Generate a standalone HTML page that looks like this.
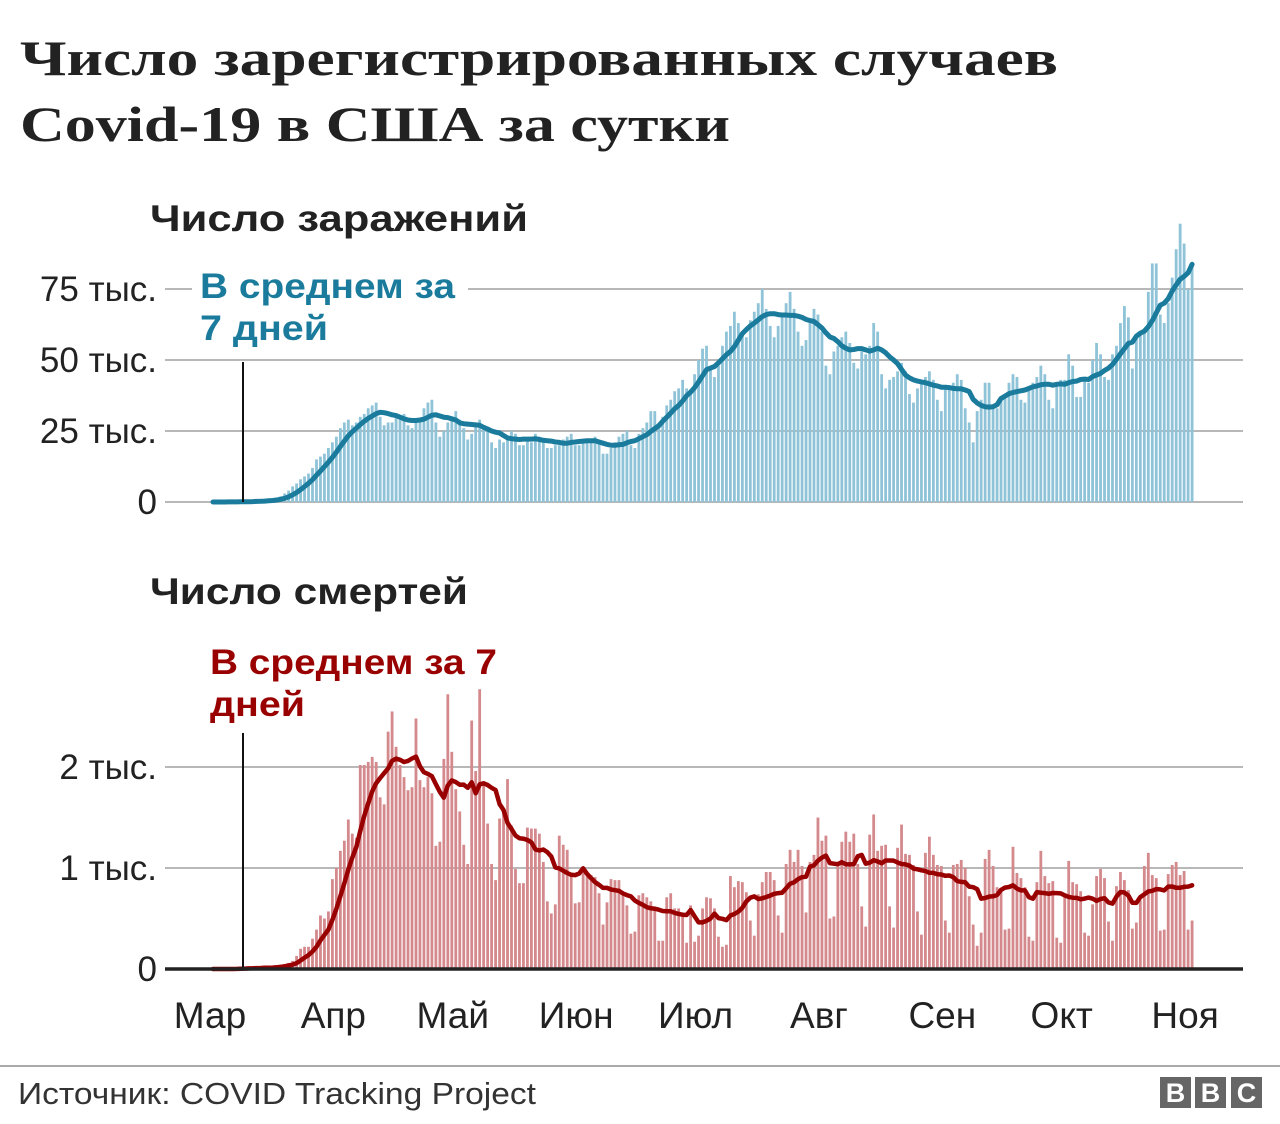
<!DOCTYPE html>
<html><head><meta charset="utf-8">
<style>
html,body{margin:0;padding:0;background:#fff;}
body{width:1280px;height:1124px;position:relative;overflow:hidden;font-family:"Liberation Sans","DejaVu Sans",sans-serif;}
svg{position:absolute;left:0;top:0;}
</style></head>
<body>
<svg id="chart" width="1280" height="1124" xmlns="http://www.w3.org/2000/svg">
<text x="20" y="75" font-family="Liberation Serif, serif" font-weight="bold" font-size="50" fill="#222" textLength="1038" lengthAdjust="spacingAndGlyphs">Число зарегистрированных случаев</text>
<text x="20" y="141" font-family="Liberation Serif, serif" font-weight="bold" font-size="50" fill="#222" textLength="710" lengthAdjust="spacingAndGlyphs">Covid-19 в США за сутки</text>
<text x="150" y="231" font-weight="bold" font-size="37" fill="#222" textLength="378" lengthAdjust="spacingAndGlyphs">Число заражений</text>
<text x="150" y="604" font-weight="bold" font-size="37" fill="#222" textLength="318" lengthAdjust="spacingAndGlyphs">Число смертей</text>
<g id="casesG"></g>
<g id="deathsG"></g>
<g id="monthsG"></g>
<line x1="0" y1="1066" x2="1280" y2="1066" stroke="#aaa" stroke-width="2"/>
<text x="18" y="1104" font-size="31" fill="#333" textLength="518" lengthAdjust="spacingAndGlyphs">Источник:  COVID Tracking Project</text>
<g>
<rect x="1160" y="1077" width="31" height="31" fill="#666"/><rect x="1195" y="1077" width="31" height="31" fill="#666"/><rect x="1231" y="1077" width="31" height="31" fill="#666"/>
<text x="1175.5" y="1102" text-anchor="middle" font-weight="bold" font-size="27" fill="#fff">B</text>
<text x="1210.5" y="1102" text-anchor="middle" font-weight="bold" font-size="27" fill="#fff">B</text>
<text x="1246.5" y="1102" text-anchor="middle" font-weight="bold" font-size="27" fill="#fff">C</text>
</g>
</svg>
<script>
const casesDaily = [
0,0,0,0,0.1,0.1,0.1,
0.1,0.2,0.2,0.3,0.4,0.5,0.6,
0.8,1,1.3,2,3,4,5.5,
6.5,8,9,10,12,15,16,
17,19,21,23,26,28,29,
27,28,30,31,33,34,35,
30,27,28,28,31,30,31,
27,26,28,29,33,35,36,
28,23,25,28,30,32,29,
26,22,24,27,29,27,25,
21,19,22,21,23,25,24,
20,20,22,21,24,23,22,
19,19,20,20,22,23,24,
20,20,21,21,22,23,21,
17,17,19,21,23,24,25,
20,19,24,26,28,32,32,
27,30,34,36,39,40,43,
40,39,45,50,54,55,47,
44,48,55,60,62,67,63,
60,58,64,67,70,75,68,
62,58,62,66,70,74,68,
60,55,57,63,68,66,60,
48,45,53,55,58,60,56,
49,47,53,52,55,63,60,
45,40,43,44,46,49,46,
38,35,40,42,44,46,43,
36,32,40,41,42,45,43,
33,28,21,32,36,42,42,
34,33,36,38,42,45,44,
36,35,40,42,44,48,45,
36,33,42,43,43,52,48,
37,37,43,42,50,56,52,
44,43,52,55,63,69,65,
47,58,59,60,74,84,84,
66,63,70,79,89,98,91,
75,84];
const deathsDaily = [
0,0,0,0,0,0,0.01,0.01,0.01,0.01,0.01,0.01,0.01,0.02,0.02,0.02,0.03,0.04,0.05,0.06,0.08,
0.13,0.2,0.22,0.22,0.3,0.39,0.53,0.5,0.57,0.89,1.0,1.17,1.27,1.48,1.34,1.3,2.02,2.02,2.05,2.1,
2.05,1.7,1.63,2.35,2.55,2.2,2.02,1.9,1.77,1.8,2.48,1.87,1.8,1.9,1.74,1.22,1.26,2.08,2.72,2.15,
1.78,1.56,1.23,1.04,2.46,1.96,2.77,1.85,1.44,1.04,0.88,1.49,1.55,1.88,1.42,0.99,0.85,0.85,1.4,1.39,
1.39,1.34,1.06,0.67,0.55,0.64,1.32,1.23,1.18,0.94,0.65,0.66,1.0,0.93,0.93,0.91,0.75,0.44,0.66,0.89,
0.88,0.88,0.74,0.63,0.35,0.37,0.73,0.75,0.71,0.67,0.6,0.28,0.28,0.71,0.75,0.6,0.6,0.54,0.26,
0.63,0.27,0.33,0.6,0.71,0.7,0.6,0.32,0.22,0.24,
0.92,0.81,0.87,0.86,0.76,0.48,0.33,0.74,0.86,0.96,
0.96,0.88,0.53,0.36,1.04,1.18,1.06,1.18,1.02,0.56,
1.06,1.13,1.5,1.27,1.32,0.5,0.52,1.03,1.26,1.36,
1.26,1.34,1.04,0.62,0.42,1.33,1.53,1.17,1.22,1.23,
0.62,0.41,1.2,1.43,1.14,1.13,1.03,0.57,0.34,1.15,
1.31,1.13,1.03,1.02,0.48,0.36,1.03,1.04,1.08,1.0,
0.72,0.44,0.23,0.36,1.09,1.18,1.02,0.81,0.79,0.39,
0.4,1.21,0.95,0.9,0.81,0.32,0.28,0.86,1.17,0.92,
0.85,0.87,0.31,0.26,0.72,1.07,0.86,0.84,0.77,0.36,
0.33,0.64,0.92,0.99,0.9,0.47,0.28,0.82,0.96,0.88,
0.78,0.4,0.46,0.68,1.02,1.15,0.93,0.9,0.38,0.39,
0.94,1.03,1.06,0.93,0.97,0.39,0.48];
const caseTicks = [0,25,50,75];
const caseTickLabels = ["0","25 тыс.","50 тыс.","75 тыс."];
const deathTicks = [0,1,2];
const deathTickLabels = ["0","1 тыс.","2 тыс."];
const months = ["Мар","Апр","Май","Июн","Июл","Авг","Сен","Окт","Ноя"];
const monthStartDay = [0,31,61,92,122,153,184,214,245];

const NS="http://www.w3.org/2000/svg";
function mk(tag,attrs,parent){const e=document.createElementNS(NS,tag);for(const k in attrs)e.setAttribute(k,attrs[k]);parent.appendChild(e);return e;}
const xDay = d => 213 + d*3.98;
const yCases = v => 502 - v*71/25;
const yDeaths = v => 969 - v*101;
function avg7(arr){return arr.map((v,i)=>{let s=0,n=0;for(let j=Math.max(0,i-6);j<=i;j++){s+=arr[j];n++;}return s/n;});}

function panel(g,data,yf,ticks,labels,barColor,lineColor,lineW,isDeaths){
  ticks.forEach((t,k)=>{
    if(!(isDeaths&&t===0)){
      const gl=mk('line',{x1:165,x2:1243,y1:yf(t),y2:yf(t),stroke:'#b8b8b8','stroke-width':2},g);
      
      
    }
    const tl=mk('text',{x:157,y:yf(t)+12,'text-anchor':'end','font-size':35,fill:'#222'},g);
    tl.textContent=labels[k];
    
    
  });
  data.forEach((v,i)=>{
    if(v<=0)return;
    const b=mk('rect',{x:xDay(i)-1.4,y:yf(v),width:2.8,height:yf(0)-yf(v),fill:barColor},g);
    
    
  });
  const a=avg7(data);
  const p=mk('polyline',{points:a.map((v,i)=>xDay(i).toFixed(1)+','+yf(v).toFixed(1)).join(' '),fill:'none',stroke:lineColor,'stroke-width':lineW,'stroke-linejoin':'round','stroke-linecap':'round'},g);
  
  
}
const cg=document.getElementById('casesG'), dg=document.getElementById('deathsG');
panel(cg,casesDaily,yCases,caseTicks,caseTickLabels,'#8fc3d8','#1a7b9c',5,false);
panel(dg,deathsDaily,yDeaths,deathTicks,deathTickLabels,'#d4898d','#990000',4.5,true);

const bgc=mk('rect',{x:192,y:262,width:276,height:88,fill:'#fff'},cg);


const vc=mk('line',{x1:243,x2:243,y1:362,y2:502,stroke:'#111','stroke-width':2},cg);


[["В среднем за",298,255],["7 дней",340,128]].forEach(t=>{
  const e=mk('text',{x:200,y:t[1],'font-weight':'bold','font-size':35,fill:'#1a7b9c',textLength:t[2],lengthAdjust:'spacingAndGlyphs'},cg);
  e.textContent=t[0];
  
  
});
const vd=mk('line',{x1:243,x2:243,y1:733,y2:969,stroke:'#111','stroke-width':2},dg);


[["В среднем за 7",674,287],["дней",716,95]].forEach(t=>{
  const e=mk('text',{x:210,y:t[1],'font-weight':'bold','font-size':35,fill:'#990000',textLength:t[2],lengthAdjust:'spacingAndGlyphs'},dg);
  e.textContent=t[0];
  
  
});
const ax=mk('line',{x1:165,x2:1243,y1:969,y2:969,stroke:'#222','stroke-width':3.5},dg);



const mg=document.getElementById('monthsG');
months.forEach((m,k)=>{
  const e=mk('text',{x:xDay(monthStartDay[k])-3,y:1028,'text-anchor':'middle','font-size':37,fill:'#222'},mg);
  e.textContent=m;
  
  
});
</script>
</body></html>
